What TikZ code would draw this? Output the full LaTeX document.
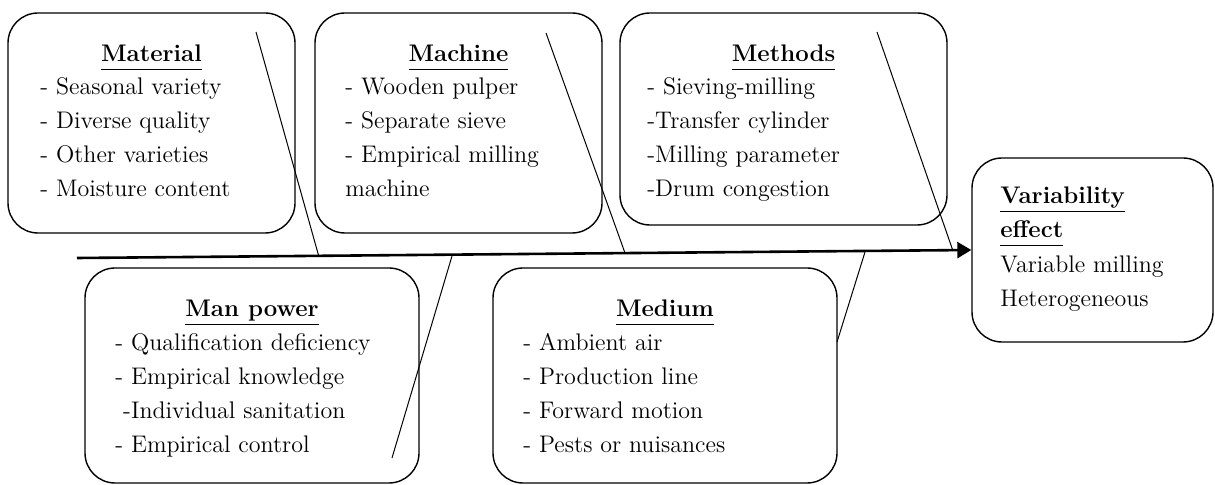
\documentclass[tikz,border=0pt]{standalone}
\usetikzlibrary{arrows.meta,fit}

\tikzset{
  catbox/.style={draw, line width=0.7pt, rounded corners=15pt, inner sep=0pt},
  bone/.style={line width=0.5pt},
  spine/.style={line width=1.3pt, -{Triangle[length=7pt,width=8pt]}},
  head/.style={anchor=base, inner sep=0pt, font=\fontsize{12}{17}\selectfont\bfseries},
  item/.style={anchor=base west, inner sep=0pt, font=\fontsize{12}{17}\selectfont},
}
\newcommand{\uhead}[1]{\underline{#1\vphantom{p}}}

\begin{document}
\begin{tikzpicture}[x=0.5pt, y=-0.5pt]
    \useasboundingbox (0,0) rectangle (1215,485);
    % Layout: three cause boxes above the spine, two below,
    %         effect box at the arrow head on the right.

    % --- boxes ---
    \node[catbox, fit={(8,13) (295,233)}]    (material) {};
    \node[catbox, fit={(315,13) (602,233)}]  (machine) {};
    \node[catbox, fit={(620,13) (947,225)}]  (methods) {};
    \node[catbox, fit={(85,268) (419,483)}]  (manpower) {};
    \node[catbox, fit={(493,268) (837,483)}] (medium) {};
    \node[catbox, fit={(972,158) (1213,342)}] (effect) {};

    % --- material ---
    \node[head] (mat-t) at (151.5, 62) {\uhead{Material}};
    \foreach \txt [count=\i from 0] in {- Seasonal variety, - Diverse quality,
                                         - Other varieties, - Moisture content}
      \node[item] (mat-\i) at (40, 95+34*\i) {\txt};

    % --- machine ---
    \node[head] (mac-t) at (458.5, 62) {\uhead{Machine}};
    \foreach \txt [count=\i from 0] in {- Wooden pulper, - Separate sieve,
                                         - Empirical milling, machine}
      \node[item] (mac-\i) at (345, 95+34*\i) {\txt};

    % --- methods ---
    \node[head] (met-t) at (783.5, 62) {\uhead{Methods}};
    \foreach \txt [count=\i from 0] in {- Sieving-milling, -Transfer cylinder,
                                         -Milling parameter, -Drum congestion}
      \node[item] (met-\i) at (647, 95+34*\i) {\txt};

    % --- man power ---
    \node[head] (man-t) at (252, 317) {\uhead{Man power}};
    \foreach \txt [count=\i from 0] in {- Qualification deficiency, - Empirical knowledge,
                                         \ -Individual sanitation, - Empirical control}
      \node[item] (man-\i) at (115, 351+34*\i) {\txt};

    % --- medium ---
    \node[head] (med-t) at (665, 317) {\uhead{Medium}};
    \foreach \txt [count=\i from 0] in {- Ambient air, - Production line,
                                         - Forward motion, - Pests or nuisances}
      \node[item] (med-\i) at (523, 351+34*\i) {\txt};

    % --- effect ---
    \node[head, anchor=base west] (eff-t1) at (1000, 204) {\uhead{Variability}};
    \node[head, anchor=base west] (eff-t2) at (1000, 238) {\uhead{effect}};
    \node[item] (eff-0) at (1000, 273) {Variable milling};
    \node[item] (eff-1) at (1000, 307) {Heterogeneous};

    % --- spine and bones ---
    \coordinate (tail) at (77, 258);
    \draw[spine] (tail) -- (effect.west);

    \coordinate (matTop)  at (256, 32);  \coordinate (matFoot) at (319, 257);
    \coordinate (macTop)  at (546, 33);  \coordinate (macFoot) at (625, 253);
    \coordinate (metTop)  at (877, 32);  \coordinate (metFoot) at (953, 251);
    \coordinate (manTop)  at (452, 256); \coordinate (manFoot) at (392, 458);
    \coordinate (medTop)  at (865, 252); \coordinate (medFoot) at (837, 342);

    \draw[bone] (matTop) -- (matFoot);
    \draw[bone] (macTop) -- (macFoot);
    \draw[bone] (metTop) -- (metFoot);
    \draw[bone] (manTop) -- (manFoot);
    \draw[bone] (medTop) -- (medFoot);
\end{tikzpicture}
\end{document}
